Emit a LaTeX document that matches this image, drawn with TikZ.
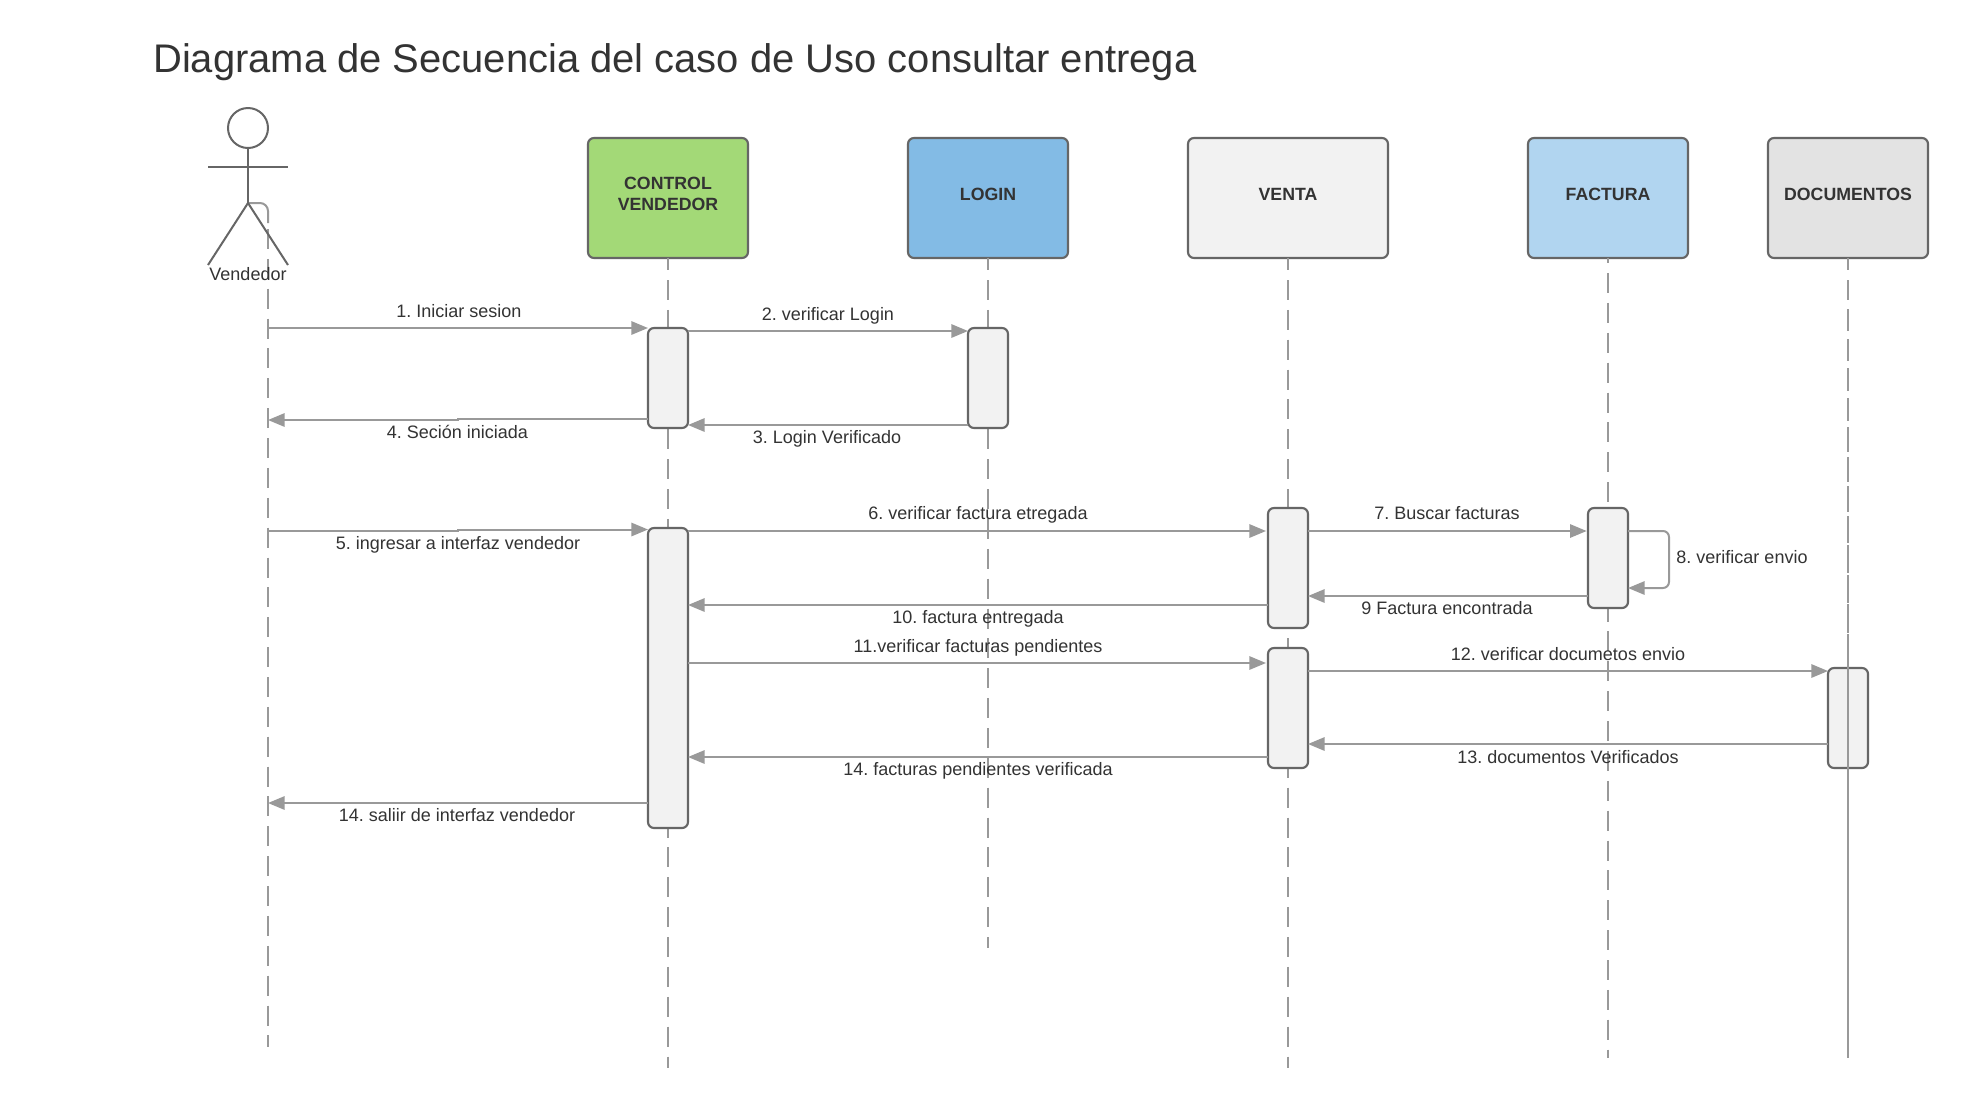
\documentclass[tikz,border=0pt]{standalone}
\usepackage{fontspec}
\setmainfont{Liberation Sans}
\usetikzlibrary{arrows.meta}
\AtBeginDocument{\frenchspacing}
\definecolor{inktext}{HTML}{333333}
\definecolor{strokebox}{HTML}{666666}
\definecolor{strokeline}{HTML}{999999}
\definecolor{fillgreen}{HTML}{A3D977}
\definecolor{fillblue}{HTML}{83BBE5}
\definecolor{filllight}{HTML}{F2F2F2}
\definecolor{fillpale}{HTML}{B1D5F0}
\definecolor{fillgray}{HTML}{E3E3E3}
\tikzset{
  objbox/.style={draw=strokebox,line width=1.6pt,rounded corners=4.5pt,inner sep=0pt,outer sep=0pt,
    minimum width=120pt,minimum height=90pt,align=center,text=inktext,
    font=\bfseries\fontsize{13.3}{16}\selectfont,text height=9.5pt,text depth=6pt},
  actbox/.style={draw=strokebox,line width=1.6pt,rounded corners=4.5pt,inner sep=0pt,outer sep=0pt,
    fill=filllight,minimum width=30pt},
  lifeline/.style={draw=strokeline,line width=1.5pt,dash pattern=on 15pt off 7.4pt,dash phase=5.9pt},
  msg/.style={draw=strokeline,line width=1.5pt,-{Triangle[length=12.5pt,width=10pt,fill=strokeline]}},
  actorline/.style={draw=strokebox,line width=1.5pt},
  msgtext/.style={text=inktext,inner sep=0pt,font=\fontsize{13.5}{13.5}\selectfont,text height=9.5pt,text depth=2.5pt},
}
\begin{document}
\begin{tikzpicture}[x=.75pt,y=-.75pt]
\useasboundingbox (0,0) rectangle (1968,1108);
\fill[white] (0,0) rectangle (1968,1108);

% object boxes
\node[objbox,fill=fillgreen,text height=25.5pt,text depth=6.7pt] (ctrl) at (668,198) {CONTROL\\VENDEDOR};
\node[objbox,fill=fillblue] (login) at (988,198) {LOGIN};
\node[objbox,fill=filllight,minimum width=150pt] (venta) at (1288,198) {VENTA};
\node[objbox,fill=fillpale] (factura) at (1608,198) {FACTURA};
\node[objbox,fill=fillgray] (docs) at (1848,198) {DOCUMENTOS};

% lifeline ends
\coordinate (ctrlend) at (668,1068);
\coordinate (loginend) at (988,948);
\coordinate (ventaend) at (1288,1068);
\coordinate (facturaend) at (1608,1058);
\coordinate (docsend) at (1848,1058);
\coordinate (vendstart) at (268,229);
\coordinate (vendcurve) at (268,223);
\coordinate (vendend) at (268,1047);
\coordinate (vendx) at (268,300);

% actor
\node[draw=strokebox,line width=1.5pt,circle,inner sep=0pt,outer sep=0pt,minimum size=30pt] (head) at (248,128) {};
\coordinate (hip) at (248,203);
\coordinate (armL) at (208,167);
\coordinate (armR) at (288,167);
\coordinate (legL) at (208,265);
\coordinate (legR) at (288,265);

% lifelines
\draw[draw=strokeline,line width=1.5pt,rounded corners=6pt] (hip) -| (vendcurve);
\draw[lifeline,dash phase=0pt] (vendstart) -- (vendend);
\draw[lifeline] (ctrl.south) -- (ctrlend);
\draw[lifeline] (login.south) -- (loginend);
\draw[lifeline] (venta.south) -- (ventaend);
\draw[lifeline,dash phase=11.1pt] (factura.south) -- (facturaend);

\draw[actorline] (head.south) -- (hip);
\draw[actorline] (armL) -- (armR);
\draw[actorline] (legL) -- (hip) -- (legR);
\node[text=inktext,inner sep=0pt,font=\fontsize{13.5}{13.5}\selectfont] (vendedor) at (248,274.5) {Vendedor};

% activations
\node[actbox,minimum height=75pt] (ca1) at (668,378) {};
\node[actbox,minimum height=75pt] (la1) at (988,378) {};
\node[actbox,minimum height=225pt] (ca2) at (668,678) {};
\node[actbox,minimum height=90pt] (va1) at (1288,568) {};
\node[actbox,minimum height=90pt] (va2) at (1288,708) {};
\node[actbox,minimum height=75pt] (fa1) at (1608,558) {};
\node[actbox,minimum height=75pt] (da1) at (1848,718) {};

% documentos lifeline: gaps close as it goes down, and it runs over its activation
\draw[draw=strokeline,line width=1.5pt,dash pattern=on 9pt off 7.5pt on 15pt off 6.75pt on 16.5pt off 6pt on 16.5pt off 5.25pt on 17.25pt off 5.25pt on 17.25pt off 4.5pt on 18.75pt off 3.75pt on 18.75pt off 3pt on 19.5pt off 3pt on 20.25pt off 1.5pt on 21pt off 1.5pt on 21pt off 1pt on 21.5pt off .75pt on 330pt off 1pt] (docs.south) -- (docsend);

% messages
\draw[msg] (vendx|-0,328) -- (ca1.west|-0,328);
\draw[msg] (ca1.east|-0,331) -- (la1.west|-0,331);
\draw[msg] (la1.west|-0,425) -- (ca1.east|-0,425);
\draw[msg] (ca1.west|-0,419) -- (458,419) -- (458,420) -- (vendx|-0,420);
\draw[msg] (vendx|-0,531) -- (458,531) -- (458,529.5) -- (ca2.west|-0,529.5);
\draw[msg,shorten >=1.5pt] (ca2.east|-0,531) -- (va1.west|-0,531);
\draw[msg,shorten >=1pt] (va1.east|-0,531) -- (fa1.west|-0,531);
\draw[msg,rounded corners=4.5pt] (fa1.east|-0,531) -- (1669,531) -- (1669,588) -- (fa1.east|-0,588);
\draw[msg] (fa1.west|-0,596) -- (va1.east|-0,596);
\draw[msg] (va1.west|-0,605) -- (ca2.east|-0,605);
\draw[msg,shorten >=1.5pt] (ca2.east|-0,663) -- (va2.west|-0,663);
\draw[msg] (va2.east|-0,671) -- (da1.west|-0,671);
\draw[msg] (da1.west|-0,744) -- (va2.east|-0,744);
\draw[msg] (va2.west|-0,757) -- (ca2.east|-0,757);
\draw[msg] (ca2.west|-0,803) -- (vendx|-0,803);

% message labels
\node[msgtext] (m1) at (459,312.5) {1. Iniciar sesion};
\node[msgtext] (m2) at (828,315.5) {2. verificar Login};
\node[msgtext] (m3) at (827,438.5) {3. Login Verificado};
\node[msgtext] (m4) at (457.5,433.5) {4. Seción iniciada};
\node[msgtext] (m5) at (458,545) {5. ingresar a interfaz vendedor};
\node[msgtext] (m6) at (978,514.5) {6. verificar factura etregada};
\node[msgtext] (m7) at (1447,514.5) {7. Buscar facturas};
\node[msgtext] (m8) at (1742,558.5) {8. verificar envio};
\node[msgtext] (m9) at (1447,609.5) {9 Factura encontrada};
\node[msgtext] (m10) at (978,619) {10. factura entregada};
\node[msgtext] (m11) at (978,647.5) {11.verificar facturas pendientes};
\node[msgtext] (m12) at (1568,655.5) {12. verificar documetos envio};
\node[msgtext] (m13) at (1568,758.5) {13. documentos Verificados};
\node[msgtext] (m14) at (978,771) {14. facturas pendientes verificada};
\node[msgtext] (m15) at (457,816.5) {14. saliir de interfaz vendedor};

% title
\node[anchor=base west,inner sep=0pt,text=inktext,font=\fontsize{29.95}{30}\selectfont] (title) at (153,72.7) {Diagrama de Secuencia del caso de Uso consultar entrega};
\end{tikzpicture}
\end{document}
